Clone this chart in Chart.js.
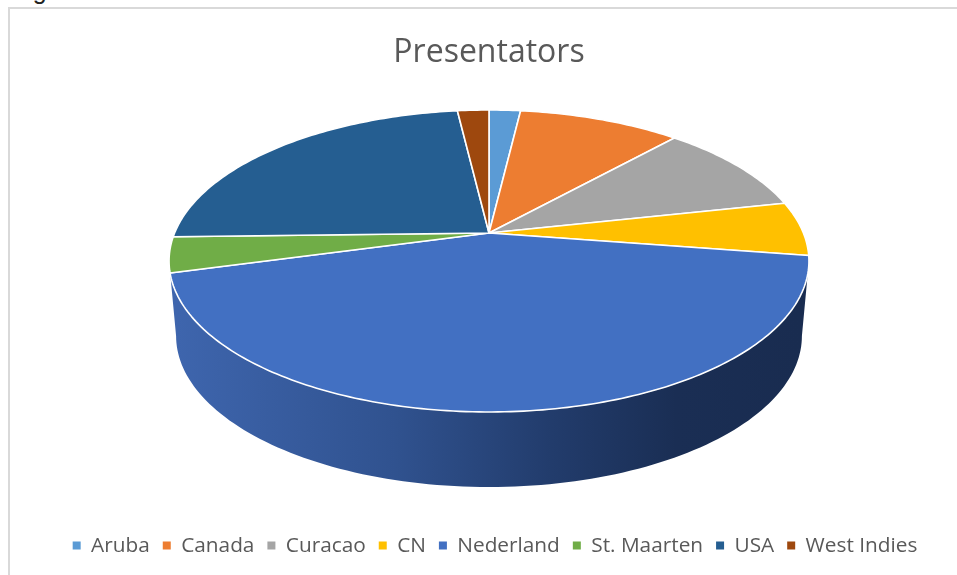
<!DOCTYPE html>
<html>
<head>
<meta charset="utf-8">
<style>
    html, body { margin: 0; height: 100%; overflow: hidden; background: #fff; }
    #fig { position: absolute; left: 12px; top: -24px; font: 25px "Liberation Sans", sans-serif; color: #222; }
    #frame { position: absolute; left: 8px; top: 7px; width: 960px; height: 580px; border-left: 2px solid #d9d9d9; border-top: 2px solid #d9d9d9; }
    #pie { display: block; }
</style>
<script src="https://cdn.jsdelivr.net/npm/chart.js@4"></script>
</head>
<body>
<div id="fig">Fig</div>
<div id="frame"><canvas id="pie" width="958" height="566"></canvas></div>
<script>
const labels = ['Aruba', 'Canada', 'Curacao', 'CN', 'Nederland', 'St. Maarten', 'USA', 'West Indies'];
const presenters = [1.9, 9.8, 9.9, 5.8, 43.4, 3.8, 23.5, 1.9];
const colors = ['#5b9bd5', '#ed7d31', '#a5a5a5', '#ffc000', '#4270c2', '#70ad47', '#255e91', '#9e480e'];

// look of the tilted disc, canvas pixels
const tilt = { cy: 224, rx: 314.4, ry: 145.8, persp: 0.1854, depth: 75, bottomScale: 0.978 };

// angle of the arc element -> point on the tilted top face
function project(cx, angle) {
    const u = Math.cos(angle);
    const v = -Math.sin(angle);
    const w = 1 + tilt.persp * v;
    return { x: cx + tilt.rx * u / w, y: tilt.cy - tilt.ry * v / w };
}

function drawWall(ctx, cx) {
    // front part of the rim, between the two widest points of the ellipse
    const side = Math.asin(tilt.persp);
    const from = side;
    const to = Math.PI - side;
    const steps = 120;
    const grad = ctx.createLinearGradient(cx - 312, 0, cx + 312, 0);
    grad.addColorStop(0, '#3e65ad');
    grad.addColorStop(0.35, '#30528f');
    grad.addColorStop(0.6, '#223c6c');
    grad.addColorStop(0.8, '#1a2e54');
    grad.addColorStop(1, '#192c50');
    ctx.beginPath();
    for (let i = 0; i <= steps; i++) {
        const p = project(cx, from + (to - from) * i / steps);
        if (i === 0) ctx.moveTo(p.x, p.y);
        else ctx.lineTo(p.x, p.y);
    }
    for (let i = steps; i >= 0; i--) {
        const p = project(cx, from + (to - from) * i / steps);
        ctx.lineTo(cx + (p.x - cx) * tilt.bottomScale, p.y + tilt.depth);
    }
    ctx.closePath();
    ctx.fillStyle = grad;
    ctx.fill();
}

// slices keep their library angles, only the way they are painted changes
Chart.ArcElement.prototype.draw = function (ctx) {
    const start = this.startAngle;
    const end = this.endAngle;
    ctx.save();
    if (start <= Math.PI / 2 && end >= Math.PI / 2) drawWall(ctx, this.x);
    const steps = Math.max(4, Math.ceil((end - start) * 60));
    ctx.beginPath();
    ctx.moveTo(this.x, tilt.cy);
    for (let i = 0; i <= steps; i++) {
        const p = project(this.x, start + (end - start) * i / steps);
        ctx.lineTo(p.x, p.y);
    }
    ctx.closePath();
    ctx.fillStyle = this.options.backgroundColor;
    ctx.fill();
    ctx.lineWidth = this.options.borderWidth;
    ctx.strokeStyle = this.options.borderColor;
    ctx.lineJoin = 'round';
    ctx.stroke();
    ctx.restore();
};

// the legend sits a bit right of the pie centre in the original
const legendShift = {
    id: 'legendShift',
    afterLayout: function (chart) {
        chart.legend.left += 6;
        chart.legend.right += 6;
    }
};

new Chart(document.getElementById('pie'), {
    type: 'pie',
    plugins: [legendShift],
    data: {
        labels: labels,
        datasets: [{
            data: presenters,
            backgroundColor: colors,
            borderColor: '#ffffff',
            borderWidth: 1.6
        }]
    },
    options: {
        responsive: false,
        animation: false,
        layout: { padding: { bottom: 9 } },
        plugins: {
            title: {
                display: true,
                text: 'Presentators',
                color: '#595959',
                font: { family: '"Open Sans"', size: 32, weight: 'normal' },
                padding: { top: 25, bottom: 10 }
            },
            legend: {
                position: 'bottom',
                labels: {
                    usePointStyle: true,
                    pointStyle: 'rect',
                    boxHeight: 8,
                    pointStyleWidth: 8,
                    padding: 13,
                    color: '#595959',
                    font: { family: '"Open Sans"', size: 20.8 },
                    generateLabels: function (chart) {
                        const items = Chart.overrides.pie.plugins.legend.labels.generateLabels(chart);
                        items.forEach(item => { item.lineWidth = 0; });
                        return items;
                    }
                }
            },
            tooltip: { enabled: false }
        }
    }
});
</script>
</body>
</html>
